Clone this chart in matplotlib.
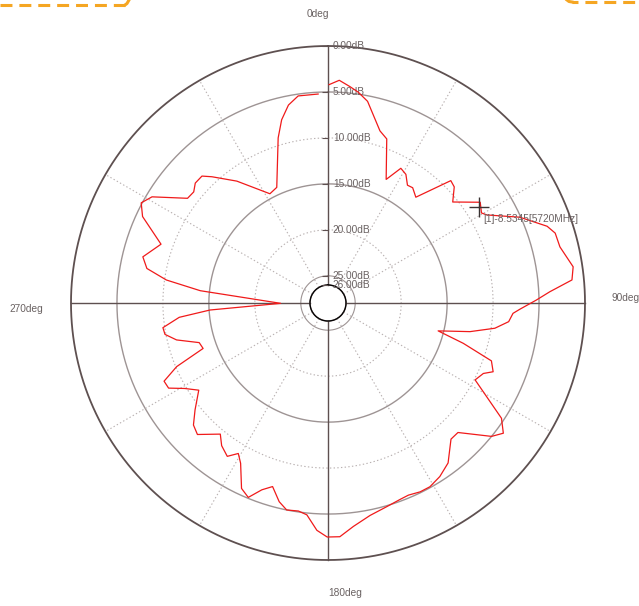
import numpy as np
import matplotlib.pyplot as plt
from matplotlib.lines import Line2D

plt.rcParams['font.family'] = ['Liberation Sans', 'DejaVu Sans']
plt.rcParams['lines.scale_dashes'] = False

# Diagrama de radiação (ângulo em graus, sentido horário a partir do norte)
angle_deg = [0.3, 2.9, 5.8, 8.2, 11.1, 16.8, 19.7, 25.2, 28.4, 31.2, 34.0, 36.3,
             39.7, 45.1, 47.4, 51.0, 56.5, 59.6, 61.0, 65.9, 70.7, 72.9, 76.4,
             81.6, 84.6, 87.1, 89.2, 91.9, 93.2, 95.9, 98.6, 101.4, 104.2, 106.6,
             109.5, 112.6, 114.4, 117.6, 123.6, 126.6, 129.2, 134.9, 137.9, 143.1,
             147.2, 151.0, 154.0, 157.3, 159.8, 163.9, 168.8, 173.5, 177.1, 180.2,
             182.8, 185.7, 188.1, 191.3, 193.8, 196.8, 199.5, 202.3, 205.0, 208.6,
             210.8, 213.3, 216.7, 219.4, 224.8, 227.8, 231.2, 236.0, 239.2, 241.9,
             244.5, 247.2, 250.0, 252.9, 256.3, 259.1, 261.5, 264.5, 266.6, 269.6,
             275.5, 278.1, 280.8, 284.0, 289.4, 295.0, 298.2, 301.1, 306.7, 309.6,
             312.1, 315.2, 317.4, 323.2, 332.0, 336.1, 343.2, 345.8, 348.7, 351.8,
             357.3]
gain_db = [-4.2, -3.7, -4.3, -4.8, -5.6, -8.4, -9.0, -13.1, -11.3, -11.6, -12.5, -12.4,
           -13.0, -9.1, -9.3, -10.5, -8.1, -8.6, -8.2, -5.1, -2.7, -2.1, -2.0,
           -1.0, -1.3, -3.8, -5.3, -7.1, -7.8, -8.2, -9.6, -12.2, -15.6, -12.6,
           -9.1, -8.5, -9.4, -9.9, -5.3, -4.2, -5.0, -8.0, -8.0, -6.2,
           -5.5, -5.1, -5.1, -5.3, -5.2, -4.9, -4.4, -3.5, -2.5, -2.5,
           -3.2, -4.8, -5.1, -5.0, -5.7, -7.1, -6.4, -5.1, -5.7, -8.1,
           -8.9, -8.0, -8.6, -9.5, -7.8, -8.2, -9.4, -11.0, -9.8, -8.3,
           -8.2, -10.1, -13.5, -13.3, -11.0, -9.9, -9.8, -11.7, -15.1, -22.8,
           -14.0, -10.2, -7.9, -7.2, -8.7, -5.7, -4.9, -5.6, -8.9, -9.0,
           -8.5, -8.5, -9.3, -11.4, -14.5, -14.2, -9.2, -7.4, -6.0, -5.2,
           -5.2]

ring_db = [0, -5, -10, -15, -20, -25, -26]
ring_labels = ["0.00dB", "5.00dB", "10.00dB", "15.00dB", "20.00dB", "25.00dB", "26.00dB"]
spoke_deg = list(range(0, 360, 30))
marker_deg = 57.6
marker_db = -8.5345
marker_label = "[1]-8.5345[5720MHz]"

escuro = '#5e5050'
medio = '#9e9494'
claro = '#b9b1b1'
texto = '#6a6262'
fs = 7.3

W, H = 639, 606
cx, cy, R = 328, 303, 257
fig = plt.figure(figsize=(W / 100, H / 100), dpi=100)
ax = fig.add_axes([(cx - R) / W, (H - cy - R) / H, 2 * R / W, 2 * R / H], projection='polar')
ax.set_theta_zero_location('N')
ax.set_theta_direction(-1)
ax.set_ylim(-26, 0)
ax.set_rorigin(-27.96)
ax.grid(False)
ax.set_xticks([])
ax.set_yticks([])
for s in ax.spines.values():
    s.set_visible(False)

# Círculos de referência
th = np.linspace(0, 2 * np.pi, 721)
estilos = {0: (escuro, 1.3, '-'), -5: (medio, 1.0, '-'), -10: (claro, 0.8, ':'),
           -15: (medio, 1.0, '-'), -20: (claro, 0.8, ':'), -25: (medio, 0.8, '-'),
           -26: (escuro, 1.1, '-')}
for v in ring_db:
    c, lw, ls = estilos[v]
    ax.plot(th, np.full_like(th, v), color=c, lw=lw, ls=ls, clip_on=False, zorder=1)

# Raios
for a in spoke_deg:
    if a % 90 == 0:
        ax.plot([np.deg2rad(a)] * 2, [-26, 0], color=escuro, lw=1.0, clip_on=False, zorder=2)
    else:
        ax.plot([np.deg2rad(a)] * 2, [-26, 0], color=claro, lw=0.8, ls=':', clip_on=False, zorder=1)

# Etiquetas radiais
for v, lab in zip(ring_db, ring_labels):
    ax.plot([0], [v], marker=0, ms=4, color=escuro, mew=0.8, clip_on=False, zorder=3)
    ax.annotate(lab, xy=(0, v), xytext=(3.5, 0), textcoords='offset points',
                ha='left', va='center', fontsize=fs, color=texto, zorder=4, annotation_clip=False)

# Traço medido
ax.plot(np.deg2rad(angle_deg), gain_db, color='#f01a1a', lw=0.9, clip_on=False, zorder=5)

# Marcador
ax.plot(np.deg2rad(marker_deg), marker_db, marker='+', ms=14, mew=1.0, color='#3a3333',
        clip_on=False, zorder=6)
ax.annotate(marker_label, xy=(np.deg2rad(marker_deg), marker_db), xytext=(3.5, -8.5),
            textcoords='offset points', ha='left', va='center', fontsize=fs, color=texto,
            zorder=6, annotation_clip=False)

# Direções
fig.text(318 / W, 1 - 14 / H, "0deg", ha='center', va='center', fontsize=fs, color=texto)
fig.text(612 / W, 1 - 298 / H, "90deg", ha='left', va='center', fontsize=fs, color=texto)
fig.text(328 / W, 1 - 593 / H, "180deg", ha='left', va='center', fontsize=fs, color=texto)
fig.text(9 / W, 1 - 309 / H, "270deg", ha='left', va='center', fontsize=fs, color=texto)

# Linhas tracejadas laranja no topo
laranja = '#f5a623'
fig.add_artist(Line2D([0, 125 / W], [1 - 5 / H] * 2, transform=fig.transFigure,
                      color=laranja, lw=2.2, ls=(0, (8.6, 5.0))))
fig.add_artist(Line2D([125 / W, 127 / W, 129 / W], [1 - 5 / H, 1 - 3.5 / H, 1 - 0 / H],
                      transform=fig.transFigure, color=laranja, lw=2.2))
fig.add_artist(Line2D([567 / W, 569 / W, 572 / W], [1 - 0 / H, 1 - 1.5 / H, 1 - 2 / H],
                      transform=fig.transFigure, color=laranja, lw=2.2))
fig.add_artist(Line2D([572 / W, 1], [1 - 2 / H] * 2, transform=fig.transFigure,
                      color=laranja, lw=2.2, ls=(4.3, (8.6, 5.0))))

fig.savefig("out.png", dpi=100)
